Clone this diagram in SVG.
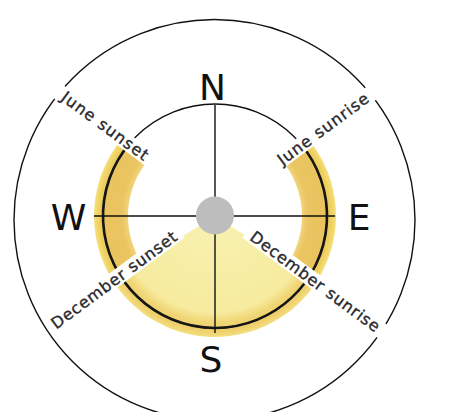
<svg xmlns="http://www.w3.org/2000/svg" width="449" height="412" viewBox="0 0 449 412">
<style>
.ln{fill:none;stroke:#111;stroke-width:1.4}
.thick{fill:none;stroke:#151515;stroke-width:2.6}
.stripe{fill:#fff}
.lbl{font-family:"DejaVu Sans",Verdana,sans-serif;font-size:16px;fill:#2a2a2e;stroke:#2a2a2e;stroke-width:0.35;text-anchor:middle}
.dir{font-family:"DejaVu Sans",Verdana,sans-serif;font-size:36px;fill:#111;text-anchor:middle}
</style>
<defs>
<radialGradient id="gBand" gradientUnits="userSpaceOnUse" cx="215" cy="216" r="121">
<stop offset="0.72" stop-color="#f1d47c"/>
<stop offset="0.77" stop-color="#eac561"/>
<stop offset="0.92" stop-color="#e9c35e"/>
<stop offset="0.96" stop-color="#efd15e"/>
<stop offset="1" stop-color="#f4e07e"/>
</radialGradient>
<radialGradient id="gWedge" gradientUnits="userSpaceOnUse" cx="215" cy="216" r="121">
<stop offset="0" stop-color="#f8f2b2"/>
<stop offset="0.8" stop-color="#f6eb9e"/>
<stop offset="0.88" stop-color="#f0d676"/>
<stop offset="0.95" stop-color="#eecf6b"/>
<stop offset="1" stop-color="#f3df80"/>
</radialGradient>
</defs>
<rect width="449" height="412" fill="#fff"/>
<g id="outer-circle"><circle class="ln" cx="214.5" cy="220" r="200.5"/></g>
<g id="sun-areas">
<path id="west-band" fill="url(#gBand)" d="M123.0,137.4 A121,121 0 0 0 112.4,280.1 L141.2,262.1 A87,87 0 0 1 148.8,159.5 Z"/>
<path id="east-band" fill="url(#gBand)" d="M307.7,138.2 A121,121 0 0 1 316.8,281.4 L288.2,263.0 A87,87 0 0 0 281.6,160.1 Z"/>
<path id="south-wedge" fill="url(#gWedge)" d="M215,216 L112.4,280.1 A121,121 0 0 0 316.8,281.4 Z"/>
</g>
<g id="horizon">
<circle class="ln" cx="215" cy="216" r="112"/>
<path class="thick" d="M129.8,143.3 A112,112 0 1 0 300.8,144.0"/>
</g>
<g id="connectors">
<line class="ln" x1="94" y1="216" x2="335" y2="216"/>
<line class="ln" x1="215" y1="105" x2="215" y2="333"/>
</g>
<g id="observer"><circle cx="215" cy="215.5" r="19" fill="#bdbdbd"/></g>
<g id="june-sunset" transform="translate(105,126) rotate(36.5)">
<rect class="stripe" x="-58" y="-8" width="116" height="16"/>
<text class="lbl" x="0" y="5.5" textLength="104" lengthAdjust="spacing">June sunset</text>
</g>
<g id="june-sunrise" transform="translate(323,129) rotate(-36.5)">
<rect class="stripe" x="-60.5" y="-8" width="121" height="16"/>
<text class="lbl" x="0" y="5.5" textLength="109" lengthAdjust="spacing">June sunrise</text>
</g>
<g id="december-sunset" transform="translate(114,280) rotate(-36.5)">
<rect class="stripe" x="-82" y="-8" width="164" height="16"/>
<text class="lbl" x="0" y="5.5" textLength="152" lengthAdjust="spacing">December sunset</text>
</g>
<g id="december-sunrise" transform="translate(315,281.5) rotate(36.5)">
<rect class="stripe" x="-84.5" y="-8" width="169" height="16"/>
<text class="lbl" x="0" y="5.5" textLength="157" lengthAdjust="spacing">December sunrise</text>
</g>
<g id="cardinals">
<text class="dir" x="212.5" y="100">N</text>
<text class="dir" x="68.5" y="230">W</text>
<text class="dir" x="359" y="230">E</text>
<text class="dir" x="211" y="372">S</text>
</g>
</svg>
